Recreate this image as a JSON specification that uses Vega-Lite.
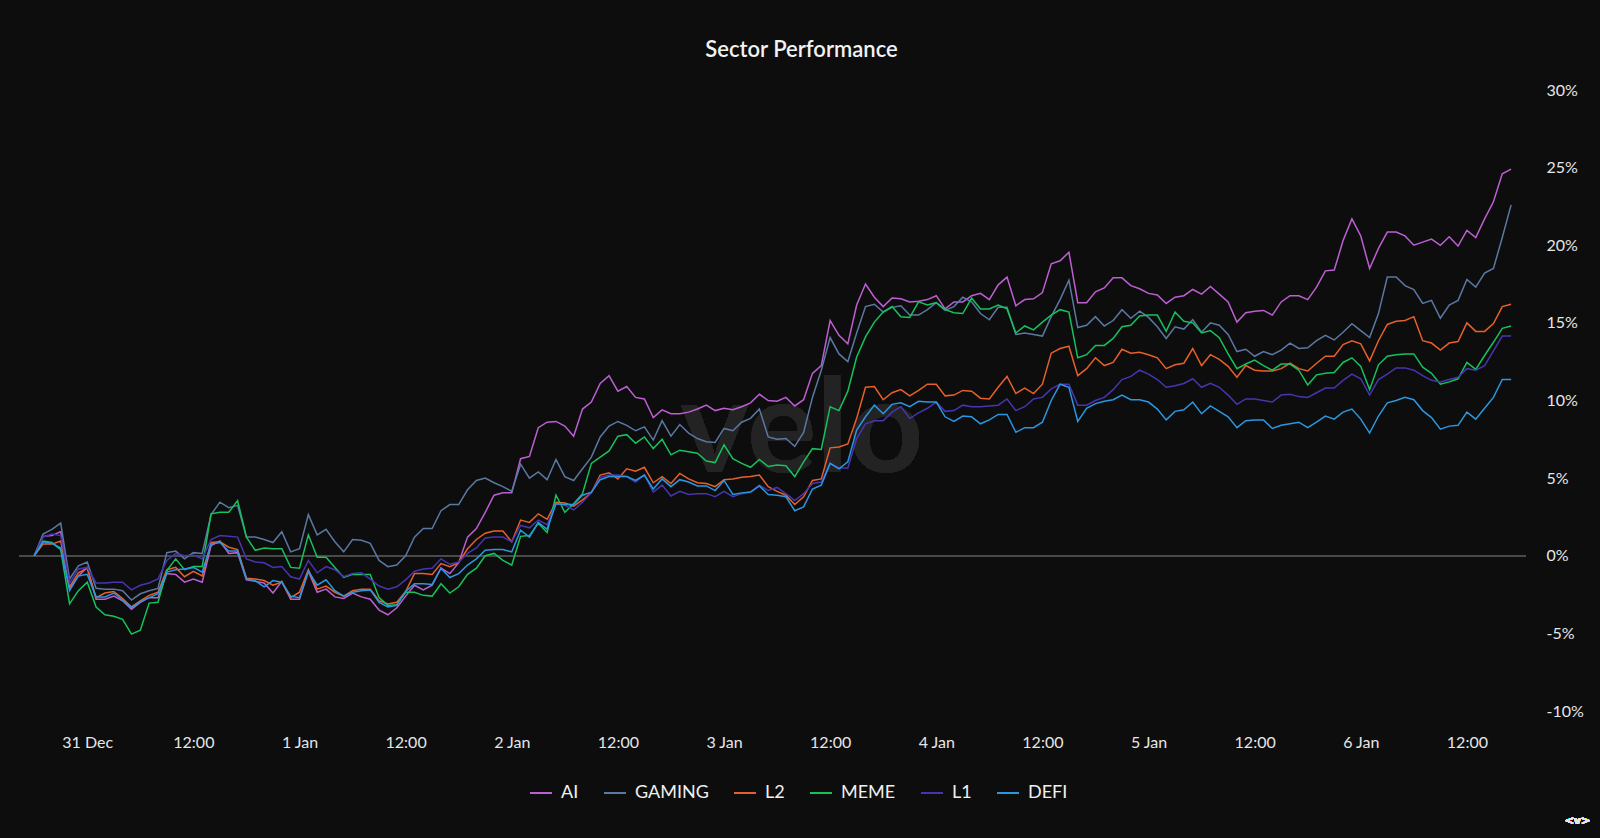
{
  "$schema": "https://vega.github.io/schema/vega-lite/v6.json",
  "width": 1507,
  "height": 621,
  "padding": {"left": 18, "top": 39, "right": 15, "bottom": 36},
  "background": "#0d0d0d",
  "title": {"text": "Sector Performance", "anchor": "middle", "dx": 29, "offset": 20, "color": "#f2f2f2", "font": "Lato", "fontSize": 22, "fontWeight": 600},
  "config": {
    "view": {"stroke": null},
    "axis": {"domain": false, "ticks": false, "grid": false, "labelColor": "#e6e6e6", "labelFont": "Lato", "labelFontSize": 16},
    "legend": {"labelColor": "#f0f0f0", "labelFont": "Lato", "labelFontSize": 18}
  },
  "data": {"values": [
{"t":"2024-12-30T18:00","AI":0,"GAMING":0,"L2":0,"MEME":0,"L1":0,"DEFI":0},
{"t":"2024-12-30T19:00","AI":1.25,"GAMING":1.4,"L2":0.75,"MEME":0.95,"L1":1.2,"DEFI":0.9},
{"t":"2024-12-30T20:00","AI":1.3,"GAMING":1.7,"L2":0.75,"MEME":0.85,"L1":1.4,"DEFI":0.8},
{"t":"2024-12-30T21:00","AI":1.55,"GAMING":2.1,"L2":0.95,"MEME":0.4,"L1":1.3,"DEFI":0.5},
{"t":"2024-12-30T22:00","AI":-2.1,"GAMING":-1.5,"L2":-2.0,"MEME":-3.1,"L1":-1.75,"DEFI":-2.25},
{"t":"2024-12-30T23:00","AI":-1.3,"GAMING":-0.65,"L2":-1.1,"MEME":-2.25,"L1":-0.85,"DEFI":-1.3},
{"t":"2024-12-31T00:00","AI":-0.75,"GAMING":-0.4,"L2":-0.8,"MEME":-1.7,"L1":-0.75,"DEFI":-1.2},
{"t":"2024-12-31T01:00","AI":-2.8,"GAMING":-2.1,"L2":-2.7,"MEME":-3.3,"L1":-1.75,"DEFI":-2.65},
{"t":"2024-12-31T02:00","AI":-2.8,"GAMING":-2.15,"L2":-2.4,"MEME":-3.8,"L1":-1.75,"DEFI":-2.65},
{"t":"2024-12-31T03:00","AI":-2.6,"GAMING":-2.15,"L2":-2.3,"MEME":-3.9,"L1":-1.7,"DEFI":-2.4},
{"t":"2024-12-31T04:00","AI":-2.9,"GAMING":-2.25,"L2":-2.75,"MEME":-4.1,"L1":-1.7,"DEFI":-2.85},
{"t":"2024-12-31T05:00","AI":-3.45,"GAMING":-2.85,"L2":-3.3,"MEME":-5.05,"L1":-2.2,"DEFI":-3.35},
{"t":"2024-12-31T06:00","AI":-3.0,"GAMING":-2.45,"L2":-2.9,"MEME":-4.8,"L1":-1.9,"DEFI":-2.95},
{"t":"2024-12-31T07:00","AI":-2.7,"GAMING":-2.25,"L2":-2.55,"MEME":-3.05,"L1":-1.75,"DEFI":-2.7},
{"t":"2024-12-31T08:00","AI":-2.7,"GAMING":-2.1,"L2":-2.35,"MEME":-3.0,"L1":-1.5,"DEFI":-2.45},
{"t":"2024-12-31T09:00","AI":-1.15,"GAMING":0.2,"L2":-0.9,"MEME":-0.95,"L1":-0.3,"DEFI":-1.05},
{"t":"2024-12-31T10:00","AI":-1.2,"GAMING":0.3,"L2":-0.75,"MEME":-0.2,"L1":0.15,"DEFI":-0.9},
{"t":"2024-12-31T11:00","AI":-1.7,"GAMING":-0.2,"L2":-1.35,"MEME":-0.9,"L1":0,"DEFI":-0.85},
{"t":"2024-12-31T12:00","AI":-1.5,"GAMING":0.2,"L2":-1.0,"MEME":-0.7,"L1":0.05,"DEFI":-0.75},
{"t":"2024-12-31T13:00","AI":-1.7,"GAMING":0.15,"L2":-1.3,"MEME":-0.7,"L1":-0.2,"DEFI":-1.05},
{"t":"2024-12-31T14:00","AI":0.65,"GAMING":2.65,"L2":0.85,"MEME":2.7,"L1":1.05,"DEFI":0.75},
{"t":"2024-12-31T15:00","AI":0.95,"GAMING":3.45,"L2":0.9,"MEME":2.8,"L1":1.3,"DEFI":0.85},
{"t":"2024-12-31T16:00","AI":0.15,"GAMING":3.1,"L2":0.55,"MEME":2.8,"L1":1.25,"DEFI":0.3},
{"t":"2024-12-31T17:00","AI":0.2,"GAMING":3.25,"L2":0.4,"MEME":3.55,"L1":1.2,"DEFI":0.3},
{"t":"2024-12-31T18:00","AI":-1.55,"GAMING":1.2,"L2":-1.45,"MEME":1.2,"L1":-0.2,"DEFI":-1.5},
{"t":"2024-12-31T19:00","AI":-1.65,"GAMING":1.2,"L2":-1.5,"MEME":0.35,"L1":-0.4,"DEFI":-1.6},
{"t":"2024-12-31T20:00","AI":-1.75,"GAMING":1.05,"L2":-1.6,"MEME":0.5,"L1":-0.45,"DEFI":-2.0},
{"t":"2024-12-31T21:00","AI":-2.4,"GAMING":0.85,"L2":-1.9,"MEME":0.45,"L1":-0.75,"DEFI":-1.6},
{"t":"2024-12-31T22:00","AI":-1.65,"GAMING":1.55,"L2":-1.7,"MEME":0.45,"L1":-0.7,"DEFI":-1.7},
{"t":"2024-12-31T23:00","AI":-2.8,"GAMING":0.25,"L2":-2.7,"MEME":-0.75,"L1":-1.35,"DEFI":-2.6},
{"t":"2025-01-01T00:00","AI":-2.8,"GAMING":0.45,"L2":-2.35,"MEME":-0.8,"L1":-1.5,"DEFI":-2.7},
{"t":"2025-01-01T01:00","AI":-1.0,"GAMING":2.65,"L2":-0.9,"MEME":1.35,"L1":-0.3,"DEFI":-1.0},
{"t":"2025-01-01T02:00","AI":-2.35,"GAMING":1.35,"L2":-2.15,"MEME":-0.1,"L1":-1.1,"DEFI":-1.9},
{"t":"2025-01-01T03:00","AI":-2.15,"GAMING":1.7,"L2":-1.95,"MEME":-0.1,"L1":-0.7,"DEFI":-1.55},
{"t":"2025-01-01T04:00","AI":-2.65,"GAMING":0.9,"L2":-2.35,"MEME":-0.75,"L1":-0.9,"DEFI":-2.25},
{"t":"2025-01-01T05:00","AI":-2.75,"GAMING":0.25,"L2":-2.6,"MEME":-1.4,"L1":-1.35,"DEFI":-2.6},
{"t":"2025-01-01T06:00","AI":-2.4,"GAMING":1.05,"L2":-2.25,"MEME":-1.2,"L1":-1.15,"DEFI":-2.35},
{"t":"2025-01-01T07:00","AI":-2.65,"GAMING":1.0,"L2":-2.15,"MEME":-1.2,"L1":-1.1,"DEFI":-2.25},
{"t":"2025-01-01T08:00","AI":-2.8,"GAMING":0.8,"L2":-2.15,"MEME":-1.2,"L1":-1.5,"DEFI":-2.2},
{"t":"2025-01-01T09:00","AI":-3.5,"GAMING":-0.3,"L2":-2.9,"MEME":-2.7,"L1":-1.95,"DEFI":-3.0},
{"t":"2025-01-01T10:00","AI":-3.8,"GAMING":-0.7,"L2":-3.1,"MEME":-3.2,"L1":-2.15,"DEFI":-3.3},
{"t":"2025-01-01T11:00","AI":-3.35,"GAMING":-0.6,"L2":-3.0,"MEME":-3.15,"L1":-2.0,"DEFI":-3.2},
{"t":"2025-01-01T12:00","AI":-2.6,"GAMING":0,"L2":-2.3,"MEME":-2.35,"L1":-1.55,"DEFI":-2.3},
{"t":"2025-01-01T13:00","AI":-1.9,"GAMING":1.2,"L2":-1.15,"MEME":-2.35,"L1":-1.0,"DEFI":-1.8},
{"t":"2025-01-01T14:00","AI":-2.2,"GAMING":1.75,"L2":-1.15,"MEME":-2.55,"L1":-0.85,"DEFI":-1.8},
{"t":"2025-01-01T15:00","AI":-1.9,"GAMING":1.75,"L2":-1.2,"MEME":-2.6,"L1":-0.8,"DEFI":-1.85},
{"t":"2025-01-01T16:00","AI":-0.8,"GAMING":2.9,"L2":-0.5,"MEME":-1.8,"L1":-0.2,"DEFI":-0.8},
{"t":"2025-01-01T17:00","AI":-1.15,"GAMING":3.3,"L2":-0.7,"MEME":-2.4,"L1":-0.55,"DEFI":-1.4},
{"t":"2025-01-01T18:00","AI":-0.45,"GAMING":3.3,"L2":-0.45,"MEME":-2.0,"L1":-0.4,"DEFI":-1.15},
{"t":"2025-01-01T19:00","AI":1.2,"GAMING":4.25,"L2":0.45,"MEME":-1.2,"L1":0.15,"DEFI":-0.6},
{"t":"2025-01-01T20:00","AI":1.75,"GAMING":4.85,"L2":1.05,"MEME":-0.8,"L1":0.5,"DEFI":-0.2},
{"t":"2025-01-01T21:00","AI":2.8,"GAMING":5.0,"L2":1.45,"MEME":0,"L1":1.15,"DEFI":0.35},
{"t":"2025-01-01T22:00","AI":3.9,"GAMING":4.7,"L2":1.6,"MEME":0.15,"L1":1.2,"DEFI":0.4},
{"t":"2025-01-01T23:00","AI":4.05,"GAMING":4.45,"L2":1.6,"MEME":-0.3,"L1":1.2,"DEFI":0.4},
{"t":"2025-01-02T00:00","AI":4.05,"GAMING":4.15,"L2":0.9,"MEME":-0.6,"L1":0.9,"DEFI":0.25},
{"t":"2025-01-02T01:00","AI":6.25,"GAMING":5.9,"L2":2.3,"MEME":1.25,"L1":1.95,"DEFI":1.65},
{"t":"2025-01-02T02:00","AI":6.4,"GAMING":5.0,"L2":2.15,"MEME":1.3,"L1":1.8,"DEFI":1.2},
{"t":"2025-01-02T03:00","AI":8.25,"GAMING":5.4,"L2":2.7,"MEME":2.1,"L1":2.3,"DEFI":2.15},
{"t":"2025-01-02T04:00","AI":8.6,"GAMING":4.9,"L2":2.35,"MEME":1.5,"L1":2.0,"DEFI":1.7},
{"t":"2025-01-02T05:00","AI":8.65,"GAMING":6.2,"L2":3.45,"MEME":3.9,"L1":3.35,"DEFI":3.35},
{"t":"2025-01-02T06:00","AI":8.35,"GAMING":5.1,"L2":3.4,"MEME":2.8,"L1":3.25,"DEFI":3.3},
{"t":"2025-01-02T07:00","AI":7.7,"GAMING":4.85,"L2":3.2,"MEME":3.35,"L1":2.95,"DEFI":3.3},
{"t":"2025-01-02T08:00","AI":9.45,"GAMING":5.6,"L2":3.6,"MEME":4.0,"L1":3.45,"DEFI":3.9},
{"t":"2025-01-02T09:00","AI":9.9,"GAMING":6.35,"L2":4.05,"MEME":5.95,"L1":4.05,"DEFI":4.1},
{"t":"2025-01-02T10:00","AI":11.1,"GAMING":7.65,"L2":5.2,"MEME":6.35,"L1":5.05,"DEFI":4.9},
{"t":"2025-01-02T11:00","AI":11.6,"GAMING":8.35,"L2":5.35,"MEME":6.75,"L1":5.2,"DEFI":5.1},
{"t":"2025-01-02T12:00","AI":10.6,"GAMING":8.65,"L2":4.95,"MEME":7.7,"L1":5.2,"DEFI":5.1},
{"t":"2025-01-02T13:00","AI":10.9,"GAMING":8.4,"L2":5.6,"MEME":7.8,"L1":5.1,"DEFI":5.1},
{"t":"2025-01-02T14:00","AI":10.2,"GAMING":8.05,"L2":5.45,"MEME":7.25,"L1":4.75,"DEFI":4.85},
{"t":"2025-01-02T15:00","AI":10.1,"GAMING":8.3,"L2":5.7,"MEME":7.65,"L1":5.2,"DEFI":5.2},
{"t":"2025-01-02T16:00","AI":8.9,"GAMING":7.45,"L2":4.7,"MEME":6.9,"L1":4.1,"DEFI":4.3},
{"t":"2025-01-02T17:00","AI":9.4,"GAMING":8.7,"L2":5.1,"MEME":7.5,"L1":4.55,"DEFI":4.95},
{"t":"2025-01-02T18:00","AI":9.15,"GAMING":7.7,"L2":4.65,"MEME":6.5,"L1":3.85,"DEFI":4.45},
{"t":"2025-01-02T19:00","AI":9.15,"GAMING":8.45,"L2":5.3,"MEME":6.8,"L1":4.15,"DEFI":4.9},
{"t":"2025-01-02T20:00","AI":9.25,"GAMING":7.9,"L2":4.95,"MEME":6.7,"L1":3.95,"DEFI":4.75},
{"t":"2025-01-02T21:00","AI":9.45,"GAMING":7.55,"L2":4.7,"MEME":6.6,"L1":4.0,"DEFI":4.5},
{"t":"2025-01-02T22:00","AI":9.7,"GAMING":7.35,"L2":4.65,"MEME":6.1,"L1":4.0,"DEFI":4.5},
{"t":"2025-01-02T23:00","AI":9.35,"GAMING":7.3,"L2":4.45,"MEME":6.0,"L1":3.8,"DEFI":4.2},
{"t":"2025-01-03T00:00","AI":9.5,"GAMING":8.2,"L2":4.9,"MEME":7.15,"L1":4.15,"DEFI":4.85},
{"t":"2025-01-03T01:00","AI":9.4,"GAMING":8.05,"L2":4.95,"MEME":6.25,"L1":3.8,"DEFI":3.95},
{"t":"2025-01-03T02:00","AI":9.6,"GAMING":8.6,"L2":5.05,"MEME":5.95,"L1":4.0,"DEFI":4.05},
{"t":"2025-01-03T03:00","AI":9.85,"GAMING":8.85,"L2":5.1,"MEME":5.7,"L1":4.1,"DEFI":4.1},
{"t":"2025-01-03T04:00","AI":10.4,"GAMING":9.45,"L2":5.2,"MEME":6.2,"L1":4.55,"DEFI":4.5},
{"t":"2025-01-03T05:00","AI":10.0,"GAMING":7.65,"L2":4.45,"MEME":5.75,"L1":4.2,"DEFI":3.95},
{"t":"2025-01-03T06:00","AI":9.95,"GAMING":7.5,"L2":4.15,"MEME":5.85,"L1":4.4,"DEFI":3.9},
{"t":"2025-01-03T07:00","AI":10.2,"GAMING":7.55,"L2":3.9,"MEME":5.8,"L1":4.0,"DEFI":3.8},
{"t":"2025-01-03T08:00","AI":9.65,"GAMING":7.05,"L2":3.3,"MEME":5.1,"L1":3.55,"DEFI":2.9},
{"t":"2025-01-03T09:00","AI":10.05,"GAMING":7.95,"L2":3.8,"MEME":6.05,"L1":4.0,"DEFI":3.15},
{"t":"2025-01-03T10:00","AI":11.75,"GAMING":10.2,"L2":4.85,"MEME":6.9,"L1":4.65,"DEFI":4.3},
{"t":"2025-01-03T11:00","AI":12.25,"GAMING":11.95,"L2":4.95,"MEME":6.85,"L1":4.75,"DEFI":4.55},
{"t":"2025-01-03T12:00","AI":15.15,"GAMING":14.05,"L2":6.95,"MEME":9.6,"L1":5.95,"DEFI":5.95},
{"t":"2025-01-03T13:00","AI":14.2,"GAMING":13.0,"L2":7.0,"MEME":9.35,"L1":5.65,"DEFI":5.6},
{"t":"2025-01-03T14:00","AI":13.65,"GAMING":12.5,"L2":7.2,"MEME":10.6,"L1":5.65,"DEFI":6.05},
{"t":"2025-01-03T15:00","AI":16.15,"GAMING":14.35,"L2":8.85,"MEME":12.8,"L1":7.55,"DEFI":8.1},
{"t":"2025-01-03T16:00","AI":17.5,"GAMING":16.05,"L2":10.85,"MEME":14.1,"L1":8.5,"DEFI":8.95},
{"t":"2025-01-03T17:00","AI":16.65,"GAMING":16.2,"L2":10.9,"MEME":15.05,"L1":8.7,"DEFI":9.7},
{"t":"2025-01-03T18:00","AI":16.05,"GAMING":15.7,"L2":10.05,"MEME":15.7,"L1":8.7,"DEFI":9.15},
{"t":"2025-01-03T19:00","AI":16.6,"GAMING":16.0,"L2":10.5,"MEME":16.05,"L1":9.25,"DEFI":9.75},
{"t":"2025-01-03T20:00","AI":16.55,"GAMING":16.1,"L2":10.7,"MEME":15.4,"L1":9.6,"DEFI":9.85},
{"t":"2025-01-03T21:00","AI":16.35,"GAMING":15.5,"L2":10.3,"MEME":15.35,"L1":8.85,"DEFI":9.6},
{"t":"2025-01-03T22:00","AI":16.4,"GAMING":15.5,"L2":10.65,"MEME":16.35,"L1":9.2,"DEFI":9.95},
{"t":"2025-01-03T23:00","AI":16.5,"GAMING":15.85,"L2":11.05,"MEME":16.15,"L1":9.5,"DEFI":9.9},
{"t":"2025-01-04T00:00","AI":16.75,"GAMING":16.3,"L2":11.05,"MEME":16.3,"L1":9.9,"DEFI":9.9},
{"t":"2025-01-04T01:00","AI":15.9,"GAMING":15.8,"L2":10.3,"MEME":15.85,"L1":9.3,"DEFI":8.95},
{"t":"2025-01-04T02:00","AI":16.35,"GAMING":16.05,"L2":10.35,"MEME":15.65,"L1":9.35,"DEFI":8.65},
{"t":"2025-01-04T03:00","AI":16.35,"GAMING":16.65,"L2":10.65,"MEME":15.6,"L1":9.7,"DEFI":9.0},
{"t":"2025-01-04T04:00","AI":16.75,"GAMING":16.35,"L2":10.6,"MEME":16.6,"L1":9.6,"DEFI":8.95},
{"t":"2025-01-04T05:00","AI":16.9,"GAMING":15.6,"L2":10.15,"MEME":15.9,"L1":9.6,"DEFI":8.5},
{"t":"2025-01-04T06:00","AI":16.5,"GAMING":15.2,"L2":10.1,"MEME":15.9,"L1":9.65,"DEFI":8.75},
{"t":"2025-01-04T07:00","AI":17.45,"GAMING":16.0,"L2":10.85,"MEME":16.15,"L1":9.7,"DEFI":9.1},
{"t":"2025-01-04T08:00","AI":17.95,"GAMING":16.0,"L2":11.55,"MEME":15.9,"L1":10.1,"DEFI":9.1},
{"t":"2025-01-04T09:00","AI":16.1,"GAMING":14.25,"L2":10.45,"MEME":14.35,"L1":9.35,"DEFI":7.95},
{"t":"2025-01-04T10:00","AI":16.5,"GAMING":14.35,"L2":10.8,"MEME":14.8,"L1":9.6,"DEFI":8.25},
{"t":"2025-01-04T11:00","AI":16.55,"GAMING":14.25,"L2":10.45,"MEME":14.55,"L1":10.1,"DEFI":8.25},
{"t":"2025-01-04T12:00","AI":16.95,"GAMING":14.15,"L2":11.05,"MEME":15.05,"L1":10.2,"DEFI":8.6},
{"t":"2025-01-04T13:00","AI":18.8,"GAMING":15.4,"L2":13.05,"MEME":15.5,"L1":10.75,"DEFI":10.0},
{"t":"2025-01-04T14:00","AI":19.0,"GAMING":16.5,"L2":13.35,"MEME":15.85,"L1":11.05,"DEFI":11.05},
{"t":"2025-01-04T15:00","AI":19.55,"GAMING":17.75,"L2":13.5,"MEME":15.7,"L1":11.05,"DEFI":10.85},
{"t":"2025-01-04T16:00","AI":16.3,"GAMING":14.7,"L2":11.6,"MEME":12.75,"L1":9.7,"DEFI":8.65},
{"t":"2025-01-04T17:00","AI":16.3,"GAMING":14.85,"L2":12.05,"MEME":12.95,"L1":9.7,"DEFI":9.5},
{"t":"2025-01-04T18:00","AI":17.0,"GAMING":15.4,"L2":12.75,"MEME":13.55,"L1":10.0,"DEFI":9.8},
{"t":"2025-01-04T19:00","AI":17.25,"GAMING":14.8,"L2":12.25,"MEME":13.55,"L1":10.2,"DEFI":9.95},
{"t":"2025-01-04T20:00","AI":17.9,"GAMING":15.15,"L2":12.45,"MEME":14.0,"L1":10.7,"DEFI":10.05},
{"t":"2025-01-04T21:00","AI":17.9,"GAMING":15.85,"L2":13.3,"MEME":14.75,"L1":11.35,"DEFI":10.35},
{"t":"2025-01-04T22:00","AI":17.4,"GAMING":15.3,"L2":13.05,"MEME":14.85,"L1":11.55,"DEFI":10.05},
{"t":"2025-01-04T23:00","AI":17.2,"GAMING":15.75,"L2":13.1,"MEME":15.45,"L1":11.95,"DEFI":10.05},
{"t":"2025-01-05T00:00","AI":16.9,"GAMING":15.35,"L2":12.95,"MEME":15.5,"L1":11.7,"DEFI":9.9},
{"t":"2025-01-05T01:00","AI":16.8,"GAMING":14.75,"L2":12.75,"MEME":15.5,"L1":11.35,"DEFI":9.45},
{"t":"2025-01-05T02:00","AI":16.25,"GAMING":14.0,"L2":12.05,"MEME":14.45,"L1":10.85,"DEFI":8.75},
{"t":"2025-01-05T03:00","AI":16.65,"GAMING":14.75,"L2":12.3,"MEME":15.7,"L1":10.95,"DEFI":9.3},
{"t":"2025-01-05T04:00","AI":16.75,"GAMING":14.6,"L2":12.4,"MEME":15.1,"L1":11.1,"DEFI":9.4},
{"t":"2025-01-05T05:00","AI":17.15,"GAMING":15.2,"L2":13.35,"MEME":15.0,"L1":11.4,"DEFI":9.9},
{"t":"2025-01-05T06:00","AI":16.85,"GAMING":14.4,"L2":12.25,"MEME":14.35,"L1":10.85,"DEFI":9.15},
{"t":"2025-01-05T07:00","AI":17.35,"GAMING":15.0,"L2":12.95,"MEME":14.5,"L1":11.1,"DEFI":9.65},
{"t":"2025-01-05T08:00","AI":16.85,"GAMING":14.85,"L2":12.65,"MEME":14.05,"L1":10.85,"DEFI":9.3},
{"t":"2025-01-05T09:00","AI":16.35,"GAMING":14.25,"L2":12.2,"MEME":13.0,"L1":10.35,"DEFI":8.95},
{"t":"2025-01-05T10:00","AI":15.05,"GAMING":13.15,"L2":11.5,"MEME":12.05,"L1":9.75,"DEFI":8.25},
{"t":"2025-01-05T11:00","AI":15.65,"GAMING":13.3,"L2":12.25,"MEME":12.35,"L1":10.1,"DEFI":8.7},
{"t":"2025-01-05T12:00","AI":15.75,"GAMING":12.85,"L2":11.95,"MEME":12.6,"L1":10.1,"DEFI":8.75},
{"t":"2025-01-05T13:00","AI":15.8,"GAMING":13.15,"L2":11.9,"MEME":12.25,"L1":10.0,"DEFI":8.75},
{"t":"2025-01-05T14:00","AI":15.5,"GAMING":12.95,"L2":11.9,"MEME":11.95,"L1":9.9,"DEFI":8.2},
{"t":"2025-01-05T15:00","AI":16.35,"GAMING":13.25,"L2":12.05,"MEME":12.35,"L1":10.35,"DEFI":8.4},
{"t":"2025-01-05T16:00","AI":16.75,"GAMING":13.7,"L2":12.4,"MEME":12.35,"L1":10.4,"DEFI":8.5},
{"t":"2025-01-05T17:00","AI":16.75,"GAMING":13.35,"L2":12.05,"MEME":11.95,"L1":10.25,"DEFI":8.6},
{"t":"2025-01-05T18:00","AI":16.5,"GAMING":13.4,"L2":11.9,"MEME":11.0,"L1":10.2,"DEFI":8.25},
{"t":"2025-01-05T19:00","AI":17.3,"GAMING":13.85,"L2":12.4,"MEME":11.65,"L1":10.5,"DEFI":8.6},
{"t":"2025-01-05T20:00","AI":18.35,"GAMING":14.2,"L2":12.85,"MEME":11.75,"L1":10.8,"DEFI":9.0},
{"t":"2025-01-05T21:00","AI":18.4,"GAMING":13.9,"L2":12.85,"MEME":11.8,"L1":10.8,"DEFI":8.8},
{"t":"2025-01-05T22:00","AI":20.3,"GAMING":14.4,"L2":13.6,"MEME":12.45,"L1":11.3,"DEFI":9.25},
{"t":"2025-01-05T23:00","AI":21.7,"GAMING":14.95,"L2":13.85,"MEME":12.75,"L1":11.7,"DEFI":9.45},
{"t":"2025-01-06T00:00","AI":20.6,"GAMING":14.5,"L2":13.65,"MEME":12.2,"L1":11.4,"DEFI":8.8},
{"t":"2025-01-06T01:00","AI":18.5,"GAMING":14.05,"L2":12.55,"MEME":10.7,"L1":10.35,"DEFI":7.9},
{"t":"2025-01-06T02:00","AI":19.8,"GAMING":15.6,"L2":13.85,"MEME":12.3,"L1":11.35,"DEFI":9.0},
{"t":"2025-01-06T03:00","AI":20.85,"GAMING":17.95,"L2":14.9,"MEME":12.85,"L1":11.7,"DEFI":9.85},
{"t":"2025-01-06T04:00","AI":20.85,"GAMING":17.95,"L2":15.1,"MEME":12.95,"L1":12.1,"DEFI":10.0},
{"t":"2025-01-06T05:00","AI":20.6,"GAMING":17.4,"L2":15.15,"MEME":13.0,"L1":12.1,"DEFI":10.2},
{"t":"2025-01-06T06:00","AI":20.0,"GAMING":17.15,"L2":15.4,"MEME":13.0,"L1":11.95,"DEFI":10.05},
{"t":"2025-01-06T07:00","AI":20.2,"GAMING":16.25,"L2":13.85,"MEME":12.15,"L1":11.6,"DEFI":9.35},
{"t":"2025-01-06T08:00","AI":20.4,"GAMING":16.45,"L2":13.7,"MEME":11.75,"L1":11.3,"DEFI":8.9},
{"t":"2025-01-06T09:00","AI":20.0,"GAMING":15.3,"L2":13.25,"MEME":11.05,"L1":11.2,"DEFI":8.15},
{"t":"2025-01-06T10:00","AI":20.55,"GAMING":16.15,"L2":13.7,"MEME":11.2,"L1":11.35,"DEFI":8.35},
{"t":"2025-01-06T11:00","AI":19.95,"GAMING":16.45,"L2":13.8,"MEME":11.4,"L1":11.5,"DEFI":8.4},
{"t":"2025-01-06T12:00","AI":20.95,"GAMING":17.8,"L2":15.0,"MEME":12.45,"L1":12.05,"DEFI":9.25},
{"t":"2025-01-06T13:00","AI":20.5,"GAMING":17.3,"L2":14.45,"MEME":12.0,"L1":11.95,"DEFI":8.8},
{"t":"2025-01-06T14:00","AI":21.7,"GAMING":18.2,"L2":14.45,"MEME":12.9,"L1":12.25,"DEFI":9.5},
{"t":"2025-01-06T15:00","AI":22.8,"GAMING":18.5,"L2":14.95,"MEME":13.75,"L1":13.2,"DEFI":10.2},
{"t":"2025-01-06T16:00","AI":24.6,"GAMING":20.5,"L2":16.05,"MEME":14.65,"L1":14.15,"DEFI":11.35},
{"t":"2025-01-06T17:00","AI":24.9,"GAMING":22.6,"L2":16.2,"MEME":14.8,"L1":14.15,"DEFI":11.35}
  ]},
  "layer": [
    {
      "mark": {"type": "text", "text": "velo", "font": "Lato", "fontSize": 130, "fontWeight": "bold", "color": "#232323", "align": "center", "baseline": "alphabetic"},
      "encoding": {
        "x": {"datum": {"year": 2025, "month": 1, "date": 3, "hours": 8, "minutes": 48}, "type": "temporal", "title": null},
        "y": {"datum": 5.4, "type": "quantitative", "title": null}
      }
    },
    {
      "mark": {"type": "rule", "color": "#4a4a4a", "strokeWidth": 1.5},
      "encoding": {"y": {"datum": 0, "type": "quantitative", "title": null}}
    },
    {
      "mark": {"type": "text", "text": "<v>", "font": "DejaVu Sans", "fontSize": 11, "fontWeight": "bold", "color": "#e6e6e6", "align": "center", "baseline": "middle", "clip": false},
      "encoding": {
        "x": {"datum": {"year": 2025, "month": 1, "date": 7, "hours": 0, "minutes": 30}, "type": "temporal", "title": null},
        "y": {"datum": -17.1, "type": "quantitative", "title": null}
      }
    },
    {
      "transform": [{"fold": ["AI", "GAMING", "L2", "MEME", "L1", "DEFI"], "as": ["sector", "value"]}],
      "mark": {"type": "line", "strokeWidth": 1.5},
      "encoding": {
        "x": {
          "field": "t", "type": "temporal", "title": null,
          "scale": {"domain": [{"year": 2024, "month": 12, "date": 30, "hours": 16, "minutes": 17}, {"year": 2025, "month": 1, "date": 6, "hours": 18, "minutes": 41}]},
          "axis": {
            "labelPadding": 23,
            "values": [
              {"year": 2024, "month": 12, "date": 31, "hours": 0},
              {"year": 2024, "month": 12, "date": 31, "hours": 12},
              {"year": 2025, "month": 1, "date": 1, "hours": 0},
              {"year": 2025, "month": 1, "date": 1, "hours": 12},
              {"year": 2025, "month": 1, "date": 2, "hours": 0},
              {"year": 2025, "month": 1, "date": 2, "hours": 12},
              {"year": 2025, "month": 1, "date": 3, "hours": 0},
              {"year": 2025, "month": 1, "date": 3, "hours": 12},
              {"year": 2025, "month": 1, "date": 4, "hours": 0},
              {"year": 2025, "month": 1, "date": 4, "hours": 12},
              {"year": 2025, "month": 1, "date": 5, "hours": 0},
              {"year": 2025, "month": 1, "date": 5, "hours": 12},
              {"year": 2025, "month": 1, "date": 6, "hours": 0},
              {"year": 2025, "month": 1, "date": 6, "hours": 12}
            ],
            "labelExpr": "hours(datum.value) == 0 ? timeFormat(datum.value, '%-d %b') : timeFormat(datum.value, '%H:%M')"
          }
        },
        "y": {
          "field": "value", "type": "quantitative", "title": null,
          "scale": {"domain": [-10, 30], "nice": false, "zero": false},
          "axis": {"orient": "right", "values": [-10, -5, 0, 5, 10, 15, 20, 25, 30], "labelExpr": "datum.value + '%'", "labelPadding": 20, "labelAlign": "left"}
        },
        "color": {
          "field": "sector", "type": "nominal",
          "scale": {"domain": ["AI", "GAMING", "L2", "MEME", "L1", "DEFI"], "range": ["#bd5fd3", "#5b78a3", "#e6602b", "#15c25c", "#4536b0", "#2a97e0"]},
          "legend": {"title": null, "orient": "none", "direction": "horizontal", "legendX": 510, "legendY": 691, "symbolType": "stroke", "symbolSize": 484, "symbolStrokeWidth": 2, "labelOffset": 8, "columnPadding": 21}
        }
      }
    }
  ]
}
